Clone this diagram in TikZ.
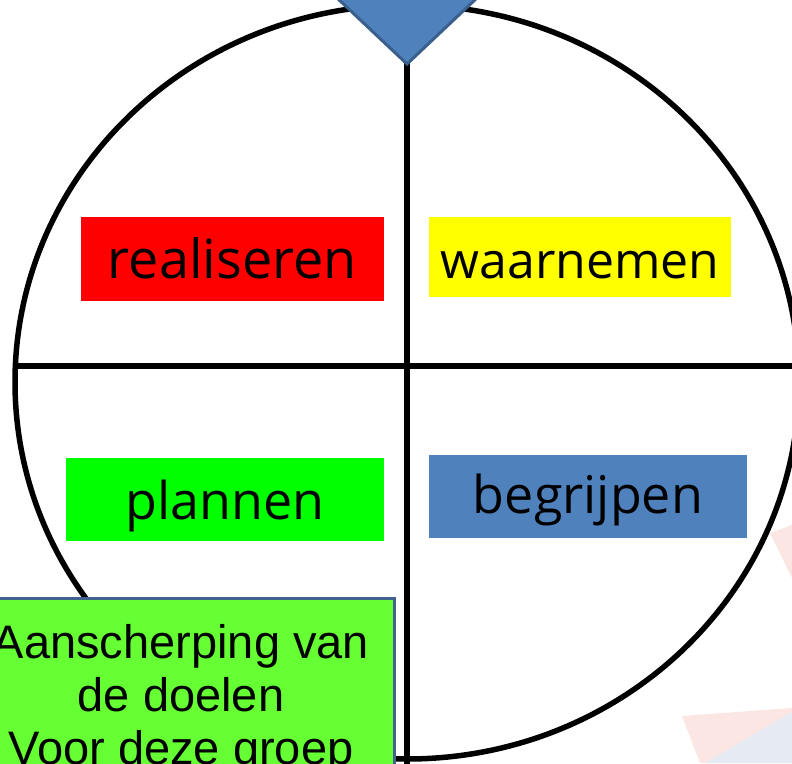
\documentclass[tikz,border=0pt]{standalone}
\usepackage{fontspec}
\setmainfont{Liberation Sans}
\newfontfamily\comicfont{Open Sans}
\definecolor{trired}{HTML}{FF0000}
\definecolor{triyellow}{HTML}{FFFF00}
\definecolor{trigreen}{HTML}{00FF00}
\definecolor{triblue}{HTML}{4F81BD}
\definecolor{triborder}{HTML}{3B5F8C}
\definecolor{notegreen}{HTML}{66FF33}
\definecolor{notebord}{HTML}{41618F}
\definecolor{wmred}{HTML}{FBE6E4}
\definecolor{wmblue}{HTML}{E6EAF2}
\tikzset{
  quadtext/.style={anchor=base, font=\comicfont\fontsize{52}{60}\selectfont, inner sep=0pt},
  ring/.style={line width=5.5pt, draw=black},
}
\begin{document}
\begin{tikzpicture}[x=1pt,y=-1pt]
\useasboundingbox (0,0) rectangle (792,763);
\clip (0,0) rectangle (792,763);
\fill[white] (0,0) rectangle (792,763);
% faint watermark shapes
\fill[wmred] (770,533) -- (792,525) -- (792,578) -- cycle;
\fill[wmred] (682,716) -- (792,708) -- (792,763) -- (700,763) -- cycle;
\fill[wmblue] (705,763) -- (792,712) -- (792,763) -- cycle;
% circle and cross
\coordinate (c) at (407,382);
\coordinate (hl) at (15,366);
\coordinate (hr) at (800,366);
\coordinate (vt) at (407,60);
\coordinate (vb) at (407,770);
\draw[ring] (c) ellipse [x radius=392, y radius=377];
\draw[ring] (hl) -- (hr);
\draw[ring] (vt) -- (vb);
% triangle
\coordinate (tl) at (318,-20);
\coordinate (tr) at (496,-20);
\coordinate (tt) at (407,64);
\filldraw[fill=triblue, draw=triborder, line width=3pt, line join=miter] (tl) -- (tr) -- (tt) -- cycle;
% quadrant boxes
\fill[trired] (81,217) rectangle (384,301);
\node[quadtext, font=\comicfont\fontsize{54}{60}\selectfont] (real) at (232.5,278) {realiseren};
\fill[triyellow] (429,217) rectangle (731,297);
\node[quadtext, font=\comicfont\fontsize{50}{60}\selectfont] (waar) at (580,278) {waarnemen};
\fill[trigreen] (66,458) rectangle (384,541);
\node[quadtext] (plan) at (225,519) {plannen};
\fill[triblue] (429,455) rectangle (747,538);
\node[quadtext] (begr) at (588,513) {begrijpen};
% note box
\filldraw[fill=notegreen, draw=notebord, line width=3pt] (-34,598) rectangle (394,800);
\node[anchor=base, align=center, inner sep=0pt, font=\fontsize{47}{53}\selectfont] (note) at (181,764)
  {Aanscherping van\\de doelen\\Voor deze groep};
\end{tikzpicture}
\end{document}
